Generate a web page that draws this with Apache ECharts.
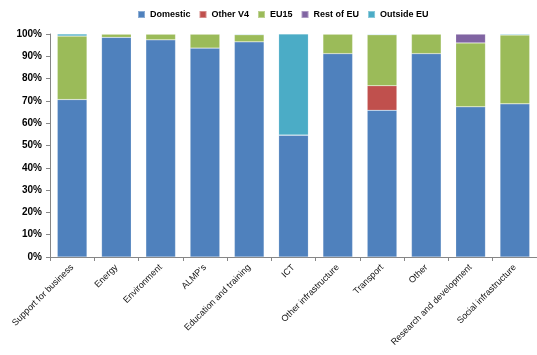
<!DOCTYPE html>
<html><head><meta charset="utf-8">
<script src="https://cdn.jsdelivr.net/npm/echarts@6/dist/echarts.min.js"></script>
<style>html,body{margin:0;padding:0;background:#fff}#c{width:537px;height:355px}</style>
</head><body><div id="c"></div>
<script>
var categories = ["Support for business","Energy","Environment","ALMP's","Education and training","ICT","Other infrastructure","Transport","Other","Research and development","Social infrastructure"];
var domestic  = [70.6, 98.5, 97.4, 93.7, 96.5, 54.7, 91.2, 65.8, 91.2, 67.4, 68.7];
var otherV4   = [0, 0, 0, 0, 0, 0, 0, 11.0, 0, 0, 0];
var eu15      = [28.5, 1.5, 2.6, 6.3, 3.2, 0, 8.8, 22.9, 8.8, 28.6, 30.9];
var restOfEU  = [0, 0, 0, 0, 0, 0, 0, 0, 0, 4.0, 0];
var outsideEU = [0.9, 0, 0, 0, 0.3, 45.3, 0, 0.3, 0, 0, 0.4];
var yTicks = [0,10,20,30,40,50,60,70,80,90,100];

var names = ["Domestic","Other V4","EU15","Rest of EU","Outside EU"];
var colors = ["#4F81BD","#C0504D","#9BBB59","#8064A2","#4BACC6"];
var datas = [domestic, otherV4, eu15, restOfEU, outsideEU];
var font = "Liberation Sans, Arial, sans-serif";
var chart = echarts.init(document.getElementById('c'));
chart.setOption({
  animation:false,
  color: colors,
  legend:{top:5,left:132,itemWidth:7,itemHeight:7,itemGap:8,icon:'rect',
    textStyle:{fontFamily:font,fontSize:9,fontWeight:'bold',color:'#000'},data:names},
  grid:{left:50,right:-6,top:34,bottom:98},
  xAxis:{type:'category',data:categories,
    axisLine:{lineStyle:{color:'#868686'}},
    axisTick:{show:true,alignWithLabel:false,length:4,lineStyle:{color:'#868686'}},
    axisLabel:{rotate:45,interval:0,fontFamily:font,fontSize:9,color:'#111',margin:9}},
  yAxis:{type:'value',min:yTicks[0],max:yTicks[yTicks.length-1],interval:10,
    axisLine:{show:true,lineStyle:{color:'#868686'}},
    axisTick:{show:true,length:4,lineStyle:{color:'#868686'}},
    splitLine:{show:false},
    axisLabel:{formatter:'{value}%',fontFamily:font,fontSize:10,fontWeight:'bold',color:'#000',margin:8}},
  series: names.map(function(n,i){return {name:n,type:'bar',stack:'s',data:datas[i],barCategoryGap:'33%',
    itemStyle:{color:colors[i],borderColor:'rgba(255,255,255,0.35)',borderWidth:0.5}};})
});
</script></body></html>
